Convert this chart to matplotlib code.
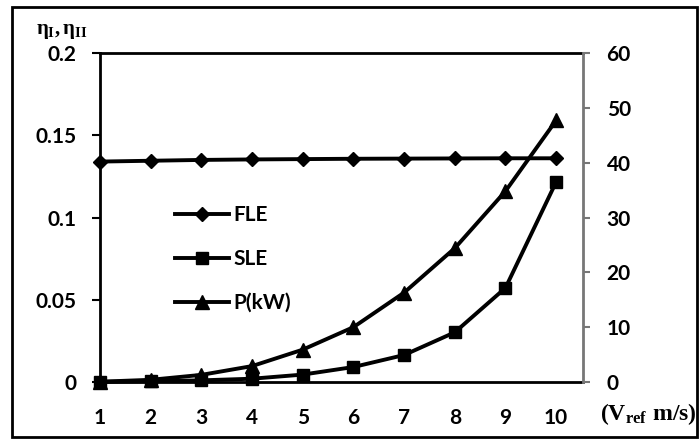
import matplotlib
matplotlib.use("Agg")
import matplotlib.pyplot as plt
from matplotlib.patches import Rectangle

# wind speed categories
v_ref = [1, 2, 3, 4, 5, 6, 7, 8, 9, 10]
# first law efficiency (left axis)
fle = [0.1340, 0.1345, 0.1350, 0.1353, 0.1355, 0.1357, 0.1358, 0.1359, 0.1360, 0.1360]
# second law efficiency (left axis)
sle = [0.0001, 0.0005, 0.0010, 0.0020, 0.0045, 0.0091, 0.0164, 0.0302, 0.0572, 0.1216]
# power output (right axis)
power = [0.05, 0.4, 1.3, 2.9, 5.9, 10.0, 16.3, 24.4, 34.8, 47.7]

left_ticks = [0, 0.05, 0.1, 0.15, 0.2]
left_labels = ["0", "0.05", "0.1", "0.15", "0.2"]
right_ticks = [0, 10, 20, 30, 40, 50, 60]

plt.rcParams['font.family'] = ['Lato', 'DejaVu Sans']
plt.rcParams['font.weight'] = 'bold'
plt.rcParams['mathtext.fontset'] = 'custom'
plt.rcParams['mathtext.rm'] = 'Liberation Serif:bold'
plt.rcParams['mathtext.it'] = 'Liberation Serif:bold'

fs = 15

fig = plt.figure(figsize=(7.0, 4.43), dpi=100)
ax = fig.add_axes([100 / 700, 1 - 382 / 443, 483 / 700, 329 / 443])
ax2 = ax.twinx()

lw = 2.8
l1, = ax.plot(v_ref, fle, color='black', lw=lw, marker='D', ms=7.5, label='FLE', clip_on=False)
l2, = ax.plot(v_ref, sle, color='black', lw=lw, marker='s', ms=9, label='SLE', clip_on=False)
l3, = ax2.plot(v_ref, power, color='black', lw=lw, marker='^', ms=10, label='P(kW)', clip_on=False)

ax.set_xlim(1, 10.53)
ax.set_ylim(0, 0.2)
ax2.set_ylim(0, 60)

ax.set_xticks(v_ref)
ax.set_xticklabels([str(v) for v in v_ref])
ax.set_yticks(left_ticks)
ax.set_yticklabels(left_labels)
ax2.set_yticks(right_ticks)

ax.tick_params(axis='x', length=0, pad=19, labelsize=fs)
ax.tick_params(axis='y', direction='out', length=6, width=1.5, color='black', pad=11, labelsize=fs)
ax2.tick_params(axis='y', direction='out', length=5, width=1.5, color='#777777', pad=12, labelsize=fs)

for s in ['left', 'bottom', 'top']:
    ax.spines[s].set_linewidth(2)
    ax.spines[s].set_color('black')
ax.spines['right'].set_visible(False)
for s in ['left', 'bottom', 'top']:
    ax2.spines[s].set_visible(False)
ax2.spines['right'].set_color('#777777')
ax2.spines['right'].set_linewidth(2)

# legend inside the plot
ax2.legend(handles=[l1, l2, l3], loc='upper left', frameon=False,
           bbox_to_anchor=(175 / 700, 1 - 205 / 443), bbox_transform=fig.transFigure,
           borderpad=0, borderaxespad=0, handlelength=2.6, handletextpad=0.2,
           labelspacing=1.15, prop={'size': fs, 'weight': 'bold'})

# axis titles
fig.text(36 / 700, 1 - 31 / 443, r"$\eta_{\rm I},\eta_{\rm II}$", fontsize=15,
         ha='left', va='center')
fig.text(600 / 700, 1 - 414 / 443, r"$(\rm V_{ref}\ m/s)$", fontsize=17,
         ha='left', va='center')

# outer border
fig.patches.append(Rectangle((12 / 700, 1 - 437 / 443), 685 / 700, 430 / 443,
                             transform=fig.transFigure, fill=False,
                             edgecolor='black', linewidth=2))

fig.savefig("out.png", dpi=100)
